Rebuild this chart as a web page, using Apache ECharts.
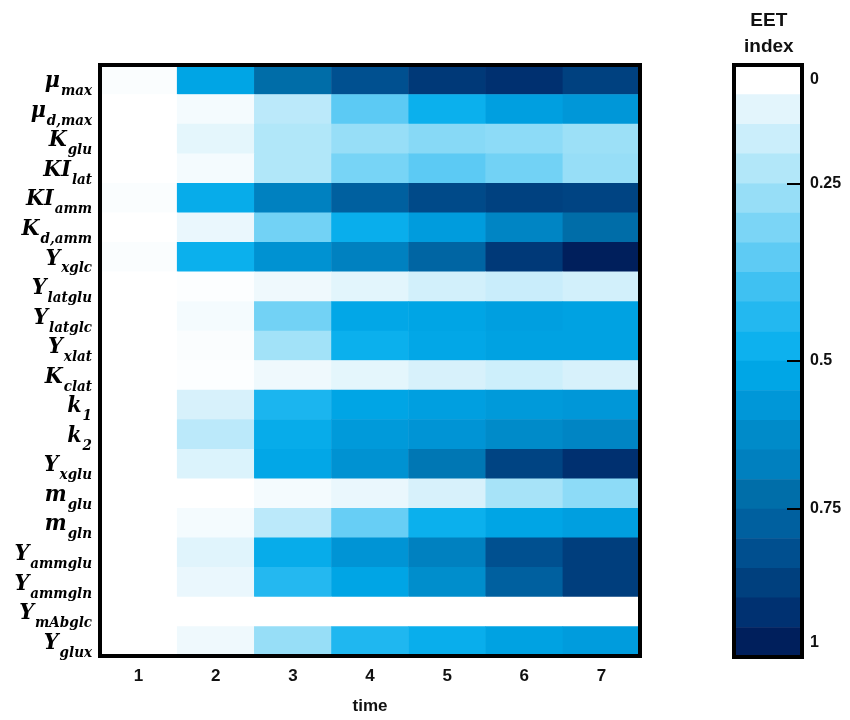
<!DOCTYPE html>
<html><head><meta charset="utf-8">
<script src="https://cdn.jsdelivr.net/npm/echarts@6/dist/echarts.min.js"></script>
<style>html,body{margin:0;padding:0;background:#fff}#c{width:850px;height:720px}</style>
</head><body><div id="c"></div>
<script>
const timeLabels = ['1','2','3','4','5','6','7'];
const params = ['μ_max','μ_d,max','K_glu','KI_lat','KI_amm','K_d,amm','Y_xglc','Y_latglu','Y_latglc','Y_xlat',
  'K_clat','k_1','k_2','Y_xglu','m_glu','m_gln','Y_ammglu','Y_ammgln','Y_mAbglc','Y_glux'];
// EET index (colour level 0..1) per parameter, per time point
const eet = [
  [0.01, 0.53, 0.74, 0.84, 0.92, 0.95, 0.89],
  [0.00, 0.02, 0.14, 0.32, 0.48, 0.55, 0.58],
  [0.00, 0.05, 0.16, 0.21, 0.24, 0.23, 0.20],
  [0.00, 0.02, 0.16, 0.27, 0.32, 0.28, 0.21],
  [0.01, 0.50, 0.68, 0.79, 0.86, 0.89, 0.88],
  [0.00, 0.04, 0.28, 0.49, 0.56, 0.66, 0.74],
  [0.01, 0.48, 0.60, 0.68, 0.77, 0.92, 1.00],
  [0.00, 0.005, 0.03, 0.055, 0.09, 0.11, 0.09],
  [0.00, 0.02, 0.28, 0.52, 0.53, 0.55, 0.54],
  [0.00, 0.01, 0.19, 0.48, 0.52, 0.54, 0.54],
  [0.00, 0.005, 0.03, 0.05, 0.08, 0.10, 0.08],
  [0.00, 0.08, 0.44, 0.53, 0.55, 0.57, 0.58],
  [0.00, 0.14, 0.50, 0.57, 0.59, 0.63, 0.66],
  [0.00, 0.07, 0.52, 0.60, 0.71, 0.88, 0.95],
  [0.00, 0.00, 0.02, 0.04, 0.08, 0.18, 0.23],
  [0.00, 0.02, 0.14, 0.30, 0.48, 0.53, 0.55],
  [0.00, 0.06, 0.50, 0.59, 0.68, 0.84, 0.90],
  [0.00, 0.04, 0.42, 0.53, 0.62, 0.79, 0.90],
  [0.00, 0.00, 0.00, 0.00, 0.00, 0.00, 0.00],
  [0.00, 0.03, 0.21, 0.43, 0.49, 0.54, 0.56]
];
const bandColors = ['#ffffff','#e3f5fc','#cbeefb','#b2e7f9','#97def7','#7bd5f6','#5ecbf4','#3fc1f2','#23b8f0','#0db1ee',
  '#00a6e6','#0097d8','#008bc9','#0080bf','#006ea9','#00609f','#004f8f','#00407e','#003171','#001f5c'];
const cbLabels = ['0','0.25','0.5','0.75','1'];
const cbLabelPos = [0.5, 4, 10, 15, 19.5];
const cbTickPos = [4, 10, 15];

const heatData = [];
eet.forEach((row, r) => row.forEach((v, c) => heatData.push([c, r, v])));
const bandIdx = bandColors.map((c, i) => String(i));
const cbData = bandColors.map((c, i) => ({ value: [0, i, i], itemStyle: { color: c } }));
const labelMap = {};
cbLabelPos.forEach((p, i) => labelMap[p] = cbLabels[i]);

const serif = 'DejaVu Serif Condensed, DejaVu Serif';
const chart = echarts.init(document.getElementById('c'), null, { renderer: 'canvas' });
chart.setOption({
  animation: false,
  backgroundColor: '#fff',
  grid: [
    { left: 100, top: 65, width: 540, height: 592, show: true, borderColor: '#000', borderWidth: 4, backgroundColor: 'transparent', z: 5 },
    { left: 734, top: 65, width: 68, height: 592, show: true, borderColor: '#000', borderWidth: 4, backgroundColor: 'transparent', z: 5 }
  ],
  xAxis: [
    { type: 'category', gridIndex: 0, data: timeLabels, axisLine: { show: false }, axisTick: { show: false },
      axisLabel: { margin: 12, fontSize: 17, fontWeight: 'bold', color: '#111', fontFamily: 'Liberation Sans, Arial' },
      name: 'time', nameLocation: 'middle', nameGap: 42,
      nameTextStyle: { fontSize: 17, fontWeight: 'bold', color: '#111', fontFamily: 'Liberation Sans, Arial' } },
    { type: 'category', gridIndex: 1, data: [''], show: false }
  ],
  yAxis: [
    { type: 'category', gridIndex: 0, data: params, inverse: true, axisLine: { show: false }, axisTick: { show: false },
      axisLabel: {
        interval: 0,
        margin: 8,
        padding: [8, 0, 0, 0],
        formatter: function (v) { const p = v.split('_'); return '{m|' + p[0] + '}{s|' + p[1] + '}'; },
        rich: {
          m: { fontFamily: serif, fontStyle: 'italic', fontWeight: 'bold', fontSize: 23, color: '#000', verticalAlign: 'bottom', lineHeight: 24, padding: [0, 0, 3, 0] },
          s: { fontFamily: serif, fontStyle: 'italic', fontWeight: 'bold', fontSize: 15, color: '#000', verticalAlign: 'bottom', lineHeight: 16, padding: [0, 0, -3, 1] }
        }
      } },
    { type: 'category', gridIndex: 1, data: bandIdx, inverse: true, show: false },
    { type: 'value', gridIndex: 1, min: 0, max: 20, inverse: true, position: 'right', splitLine: { show: false }, z: 10,
      axisLine: { show: false },
      axisTick: { show: true, inside: true, length: 15, customValues: cbTickPos, lineStyle: { color: '#000', width: 2 } },
      axisLabel: { customValues: cbLabelPos, margin: 8, formatter: function (v) { return labelMap[v] !== undefined ? labelMap[v] : ''; },
        fontSize: 16, fontWeight: 'bold', color: '#111', fontFamily: 'Liberation Sans, Arial' } }
  ],
  visualMap: { type: 'continuous', show: false, min: 0, max: 1, seriesIndex: 0, inRange: { color: bandColors } },
  series: [
    { type: 'heatmap', xAxisIndex: 0, yAxisIndex: 0, data: heatData, itemStyle: { borderWidth: 0 } },
    { type: 'heatmap', xAxisIndex: 1, yAxisIndex: 1, data: cbData, itemStyle: { borderWidth: 0 } }
  ],
  graphic: [
    { type: 'text', left: 744, top: 8, style: { text: 'EET\nindex', textAlign: 'center', fontSize: 19, fontWeight: 'bold', lineHeight: 26, fill: '#111', fontFamily: 'Liberation Sans, Arial' } }
  ]
});
</script></body></html>
